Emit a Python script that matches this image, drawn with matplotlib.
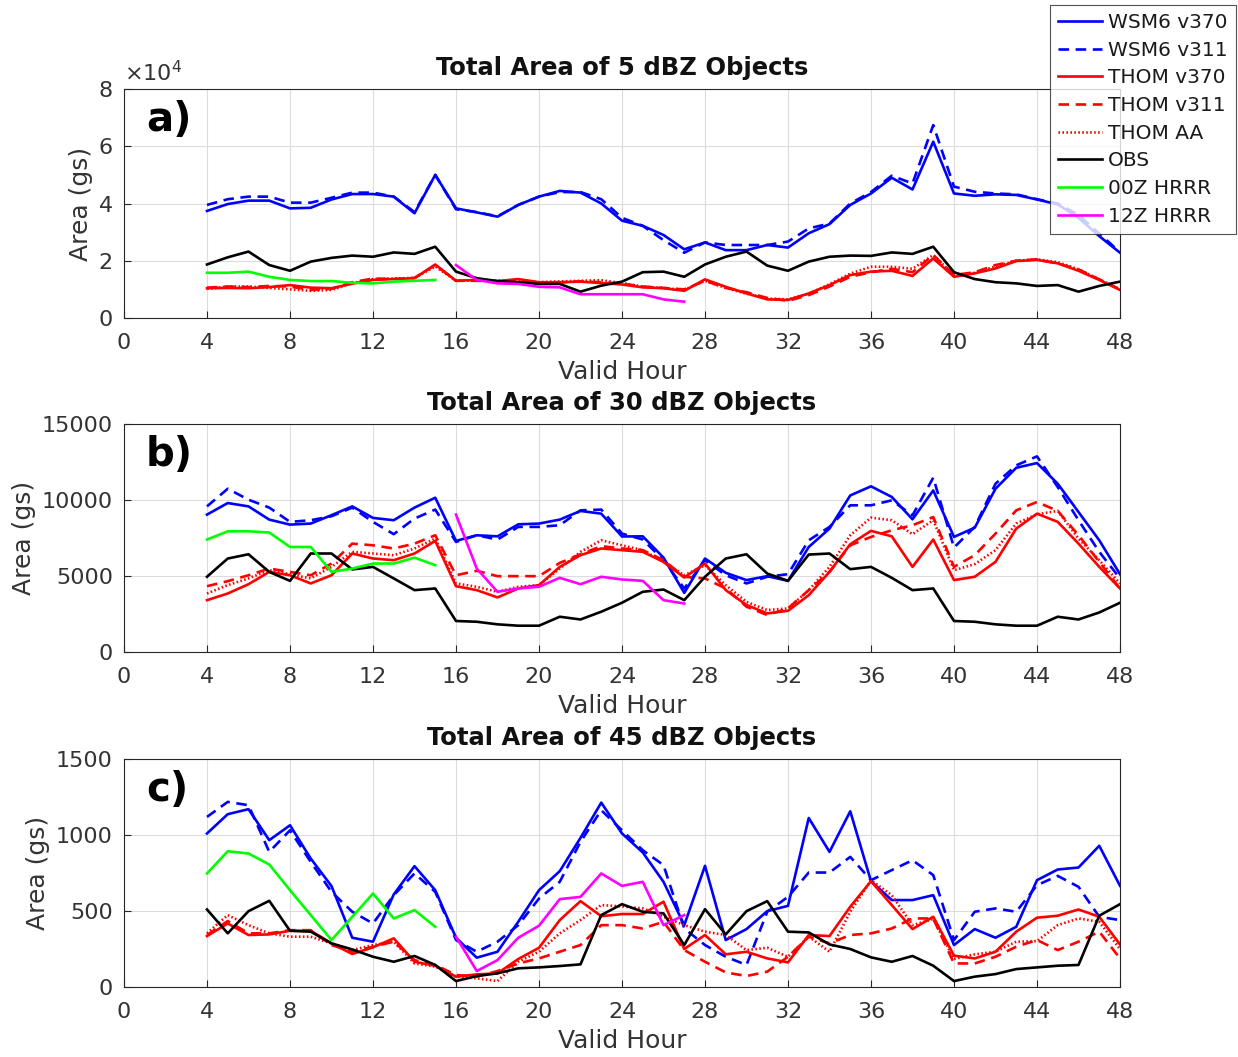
import numpy as np
import matplotlib.pyplot as plt

plt.rcParams['font.family'] = ['DejaVu Sans']
plt.rcParams['mathtext.fontset'] = 'dejavusans'

hours = np.arange(4, 49)
hrrr00_hours = np.arange(4, 16)
hrrr12_hours = np.arange(16, 28)

# panel a: 5 dBZ (units of 1e4 gs)
a_wsm6_v370 = [3.74, 3.98, 4.10, 4.10, 3.83, 3.85, 4.14, 4.33, 4.33, 4.24, 3.66, 5.0,
               3.83, 3.69, 3.54, 3.95, 4.24, 4.44, 4.38, 4.0, 3.40, 3.22, 2.9, 2.4,
               2.64, 2.37, 2.37, 2.55, 2.46, 2.96, 3.28, 3.95, 4.35, 4.9, 4.49, 6.16,
               4.35, 4.27, 4.32, 4.3, 4.14, 3.97, 3.5, 2.86, 2.28]
a_wsm6_v311 = [3.95, 4.15, 4.24, 4.24, 4.03, 4.03, 4.2, 4.38, 4.38, 4.24, 3.7, 5.0,
               3.8, 3.7, 3.55, 3.95, 4.24, 4.4, 4.4, 4.15, 3.5, 3.22, 2.72, 2.28,
               2.64, 2.55, 2.55, 2.55, 2.67, 3.13, 3.3, 4.0, 4.4, 4.97, 4.7, 6.74,
               4.59, 4.41, 4.35, 4.32, 4.15, 4.0, 3.6, 2.95, 2.3]
a_thom_v370 = [1.04, 1.05, 1.04, 1.08, 1.15, 1.06, 1.04, 1.2, 1.33, 1.36, 1.39, 1.87,
               1.3, 1.33, 1.29, 1.36, 1.25, 1.25, 1.27, 1.22, 1.17, 1.07, 1.04, 0.95,
               1.35, 1.09, 0.86, 0.65, 0.63, 0.86, 1.15, 1.5, 1.62, 1.65, 1.47, 2.08,
               1.44, 1.56, 1.73, 1.99, 2.03, 1.91, 1.65, 1.33, 0.98]
a_thom_v311 = [1.06, 1.1, 1.08, 1.12, 1.1, 0.98, 1.02, 1.25, 1.38, 1.36, 1.4, 1.85,
               1.3, 1.3, 1.27, 1.33, 1.24, 1.24, 1.28, 1.25, 1.2, 1.1, 1.05, 1.0,
               1.3, 1.05, 0.9, 0.7, 0.6, 0.8, 1.1, 1.44, 1.6, 1.72, 1.6, 2.2,
               1.5, 1.6, 1.85, 2.0, 2.05, 1.9, 1.7, 1.35, 1.0]
a_thom_aa = [1.02, 1.1, 1.1, 1.05, 1.0, 0.95, 0.98, 1.22, 1.36, 1.38, 1.4, 1.8,
             1.3, 1.32, 1.3, 1.32, 1.25, 1.28, 1.3, 1.32, 1.22, 1.1, 1.05, 0.98,
             1.3, 1.05, 0.85, 0.68, 0.65, 0.85, 1.18, 1.55, 1.79, 1.79, 1.72, 2.2,
             1.5, 1.58, 1.8, 2.0, 2.05, 1.95, 1.7, 1.35, 1.0]
a_obs = [1.87, 2.12, 2.32, 1.85, 1.65, 1.97, 2.1, 2.18, 2.14, 2.29, 2.24, 2.49,
         1.62, 1.39, 1.29, 1.25, 1.19, 1.19, 0.92, 1.13, 1.27, 1.6, 1.62, 1.44,
         1.87, 2.14, 2.32, 1.83, 1.65, 1.97, 2.14, 2.18, 2.17, 2.29, 2.24, 2.49,
         1.6, 1.36, 1.25, 1.21, 1.12, 1.15, 0.92, 1.12, 1.27]
a_hrrr00 = [1.58, 1.58, 1.62, 1.44, 1.33, 1.29, 1.29, 1.23, 1.21, 1.27, 1.3, 1.33]
a_hrrr12 = [1.85, 1.33, 1.21, 1.19, 1.09, 1.07, 0.83, 0.83, 0.83, 0.83, 0.65, 0.57]

# panel b: 30 dBZ
b_wsm6_v370 = [9040, 9800, 9580, 8710, 8380, 8450, 9000, 9580, 8820, 8670, 9500, 10150,
               7310, 7680, 7610, 8400, 8450, 8710, 9280, 9100, 7600, 7610, 6210, 3890,
               6150, 5210, 4730, 4990, 4680, 6910, 8120, 10300, 10900, 10200, 8730, 10630,
               7570, 8180, 10740, 12120, 12430, 11070, 9210, 7350, 5120]
b_wsm6_v311 = [9580, 10740, 10020, 9500, 8560, 8670, 8930, 9500, 8560, 7750, 8780, 9370,
               7240, 7680, 7400, 8230, 8230, 8340, 9320, 9370, 7790, 7400, 6040, 4180,
               6040, 5050, 4510, 4950, 5120, 7350, 8230, 9650, 9650, 9980, 8990, 11470,
               6870, 8230, 11070, 12280, 12870, 10850, 8670, 6590, 4840]
b_thom_v370 = [3410, 3850, 4460, 5270, 5050, 4510, 5050, 6480, 6150, 6040, 6480, 7310,
               4330, 4070, 3590, 4180, 4400, 5600, 6370, 6810, 6700, 6590, 5930, 4900,
               5820, 4070, 3090, 2540, 2710, 3740, 5270, 7090, 7970, 7610, 5600, 7400,
               4730, 4950, 5930, 8120, 9100, 8560, 7130, 5600, 4180]
b_thom_v311 = [4330, 4660, 5050, 5490, 5270, 5050, 5820, 7130, 7020, 6810, 7130, 7680,
               5050, 5340, 4990, 4990, 4990, 5860, 6430, 6960, 6810, 6700, 6040, 4950,
               4840, 4180, 2980, 2430, 2870, 4070, 5270, 7020, 7570, 8010, 8340, 8880,
               5600, 6370, 7790, 9320, 9870, 9280, 7680, 5930, 4180]
b_thom_aa = [3850, 4400, 4840, 5380, 5120, 4840, 5600, 6590, 6480, 6370, 6810, 7460,
             4510, 4290, 3960, 4290, 4400, 5490, 6590, 7350, 7020, 6700, 5930, 5050,
             5710, 4400, 3300, 2760, 2870, 4070, 5600, 7680, 8840, 8670, 7750, 8670,
             5380, 5780, 6700, 8450, 9060, 9280, 7460, 6040, 4510]
b_obs = [4950, 6150, 6430, 5270, 4680, 6480, 6480, 5430, 5600, 4840, 4070, 4180,
         2040, 1990, 1820, 1730, 1730, 2320, 2140, 2650, 3240, 3960, 4110, 3410,
         4950, 6150, 6430, 5160, 4680, 6410, 6480, 5450, 5600, 4880, 4070, 4180,
         2040, 1990, 1820, 1730, 1730, 2320, 2140, 2600, 3240]
b_hrrr00 = [7400, 7940, 7940, 7860, 6910, 6910, 5270, 5490, 5820, 5820, 6210, 5710]
b_hrrr12 = [9040, 5490, 3960, 4180, 4290, 4880, 4460, 4950, 4770, 4680, 3410, 3190]

# panel c: 45 dBZ
c_wsm6_v370 = [1010, 1137, 1170, 966, 1064, 845, 664, 324, 298, 609, 795, 637,
               324, 193, 232, 429, 637, 762, 981, 1213, 1010, 885, 692, 407,
               797, 309, 381, 499, 534, 1112, 889, 1156, 696, 572, 572, 604,
               276, 381, 324, 396, 703, 773, 786, 929, 666]
c_wsm6_v311 = [1119, 1218, 1196, 889, 1031, 823, 626, 495, 418, 604, 747, 626,
               309, 232, 298, 407, 582, 692, 955, 1163, 1031, 900, 802, 385,
               276, 199, 145, 495, 593, 753, 753, 856, 703, 769, 834, 736,
               309, 495, 517, 495, 670, 731, 659, 462, 440]
c_thom_v370 = [335, 418, 342, 346, 370, 370, 287, 217, 261, 320, 166, 140,
               68, 83, 90, 184, 258, 440, 565, 466, 480, 480, 561, 250,
               342, 215, 232, 188, 162, 342, 335, 528, 696, 539, 381, 462,
               206, 188, 232, 364, 456, 469, 510, 462, 280]
c_thom_v311 = [342, 434, 353, 353, 374, 374, 276, 232, 265, 298, 177, 145,
               79, 68, 105, 155, 188, 232, 276, 407, 407, 385, 429, 243,
               166, 96, 72, 101, 199, 331, 287, 342, 353, 385, 451, 451,
               155, 155, 199, 265, 309, 243, 298, 364, 188]
c_thom_aa = [353, 473, 407, 353, 331, 331, 287, 243, 276, 298, 155, 134,
             68, 57, 39, 166, 232, 353, 440, 539, 530, 517, 462, 407,
             364, 342, 243, 258, 199, 331, 232, 495, 703, 604, 407, 447,
             184, 215, 232, 298, 302, 407, 451, 429, 250]
c_obs = [510, 353, 499, 567, 370, 364, 287, 247, 199, 166, 204, 145,
         39, 72, 90, 123, 129, 138, 149, 473, 545, 495, 484, 276,
         512, 346, 499, 565, 364, 359, 280, 250, 195, 166, 204, 140,
         39, 68, 85, 118, 129, 140, 145, 469, 545]
c_hrrr00 = [747, 893, 878, 806, 637, 473, 309, 462, 615, 451, 506, 396]
c_hrrr12 = [331, 105, 177, 324, 403, 578, 593, 747, 665, 692, 407, 473]

panels = [
    ('Total Area of 5 dBZ Objects', 'a)', (0, 8), [0, 2, 4, 6, 8],
     a_wsm6_v370, a_wsm6_v311, a_thom_v370, a_thom_v311, a_thom_aa, a_obs, a_hrrr00, a_hrrr12),
    ('Total Area of 30 dBZ Objects', 'b)', (0, 15000), [0, 5000, 10000, 15000],
     b_wsm6_v370, b_wsm6_v311, b_thom_v370, b_thom_v311, b_thom_aa, b_obs, b_hrrr00, b_hrrr12),
    ('Total Area of 45 dBZ Objects', 'c)', (0, 1500), [0, 500, 1000, 1500],
     c_wsm6_v370, c_wsm6_v311, c_thom_v370, c_thom_v311, c_thom_aa, c_obs, c_hrrr00, c_hrrr12),
]

W, H = 1238, 1057
fig = plt.figure(figsize=(W / 100, H / 100), dpi=100)
tops = [89, 424, 759]
bottoms = [318, 652, 987]
axc = '#262626'
txc = '#333333'
lw = 1.9

for (title, tag, ylim, yticks, w370, w311, t370, t311, taa, obs, h00, h12), t, b in zip(panels, tops, bottoms):
    ax = fig.add_axes([124 / W, 1 - b / H, 996 / W, (b - t) / H])
    ax.plot(hours, w370, color='#0000ff', lw=lw, label='WSM6 v370')
    ax.plot(hours, w311, color='#0000ff', lw=lw, ls=(0, (4, 2.5)), label='WSM6 v311')
    ax.plot(hours, t370, color='#ff0000', lw=lw, label='THOM v370')
    ax.plot(hours, t311, color='#ff0000', lw=lw, ls=(0, (4, 2.5)), label='THOM v311')
    ax.plot(hours, taa, color='#ff0000', lw=lw, ls=(0, (0.6, 0.9)), label='THOM AA')
    ax.plot(hours, obs, color='black', lw=lw, label='OBS')
    ax.plot(hrrr00_hours, h00, color='#00ff00', lw=lw, label='00Z HRRR')
    ax.plot(hrrr12_hours, h12, color='#ff00ff', lw=lw, label='12Z HRRR')
    ax.set_xlim(0, 48)
    ax.set_ylim(*ylim)
    ax.set_xticks(np.arange(0, 49, 4))
    ax.set_yticks(yticks)
    ax.grid(True, color='#dcdcdc', lw=0.8)
    ax.set_axisbelow(True)
    ax.tick_params(direction='in', length=5, labelsize=16, colors=axc, labelcolor=txc, pad=8)
    ax.tick_params(axis='x', pad=11)
    for s in ax.spines.values():
        s.set_color(axc)
        s.set_linewidth(0.8)
    ax.set_xlabel('Valid Hour', fontsize=18, color=txc, labelpad=5)
    ax.set_ylabel('Area (gs)', fontsize=18, color=txc, labelpad=4)
    ax.set_title(title, fontsize=17.5, fontweight='bold', color='#111111', pad=10)
    ax.text(0.022, 0.865, tag, transform=ax.transAxes, fontsize=29, fontweight='bold',
            va='center', ha='left')
    if tag == 'a)':
        ax.text(0.0, 1.015, r'$\times10^4$', transform=ax.transAxes, fontsize=16,
                color=txc, ha='left', va='bottom')
        handles, labels = ax.get_legend_handles_labels()

leg = fig.legend(handles, labels, loc='upper right', bbox_to_anchor=(1236 / W, 1 - 5 / H),
                 fontsize=14.5, frameon=True, fancybox=False, edgecolor=axc,
                 handlelength=2.2, handletextpad=0.3, labelspacing=0.43, borderpad=0.4,
                 borderaxespad=0)
leg.get_frame().set_linewidth(0.8)
for txt in leg.get_texts():
    txt.set_color('#1a1a1a')

fig.savefig('out.png', dpi=100)
